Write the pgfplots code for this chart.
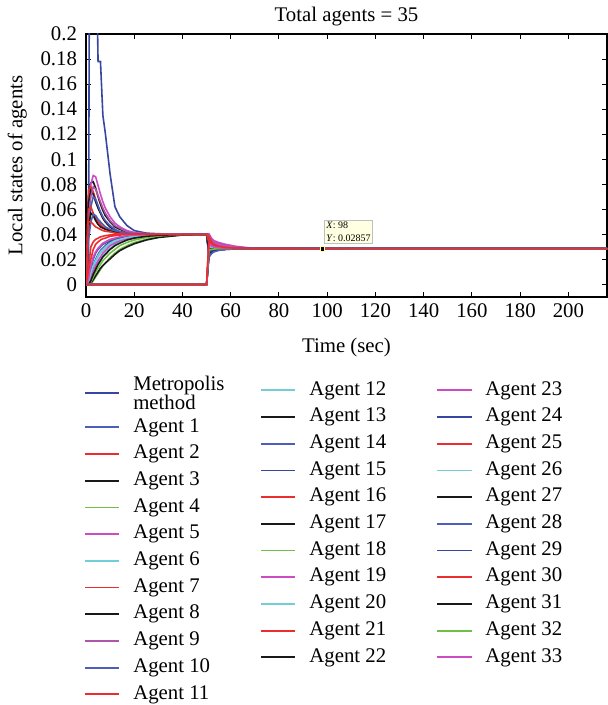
\documentclass[border=0pt]{standalone}
\usepackage{fontspec}
\setmainfont{Liberation Serif}
\usepackage{pgfplots}
\usepackage{pgfplotstable}
\pgfplotsset{compat=1.18}
\definecolor{cMet}{RGB}{55,70,160}
\definecolor{cBlue}{RGB}{75,95,185}
\definecolor{cRed}{RGB}{235,45,45}
\definecolor{cBlack}{RGB}{25,25,25}
\definecolor{cGreen}{RGB}{115,190,70}
\definecolor{cMag}{RGB}{205,75,195}
\definecolor{cCyan}{RGB}{115,205,215}
\definecolor{cPur}{RGB}{175,85,170}
\definecolor{tipbg}{RGB}{255,255,225}

\pgfplotstableread[header=true]{
name 0 1 2 3 4 5 6 7 8 10 12 14 17 20 25 30 40 50 51 52 53 55 58 62 68 216
m 0 0 0.6 0.45 0.3 0.178 0.178 0.135 0.121 0.088 0.062 0.054 0.047 0.043 0.041 0.0405 0.04 0.04 0.031 0.030 0.0295 0.029 0.0288 0.0287 0.0286 0.02857
a1 0 0.003 0.012 0.02 0.025 0.028 0.03 0.032 0.033 0.035 0.0365 0.0375 0.0385 0.039 0.0395 0.0398 0.04 0.04 0.024 0.026 0.027 0.0278 0.0282 0.0284 0.02855 0.02857
a2 0 0.012 0.03 0.034 0.036 0.037 0.038 0.0385 0.039 0.0395 0.0398 0.04 0.04 0.04 0.04 0.04 0.04 0.04 0.033 0.031 0.030 0.0295 0.029 0.0288 0.02862 0.02857
a3 0 0.07 0.081 0.082 0.077 0.07 0.064 0.059 0.055 0.05 0.046 0.044 0.042 0.041 0.0403 0.04 0.04 0.04 0.027 0.0278 0.0282 0.0284 0.0285 0.02855 0.02857 0.02857
a4 0 0 0 0.003 0.006 0.009 0.012 0.015 0.017 0.0215 0.025 0.028 0.031 0.0335 0.036 0.038 0.0395 0.04 0.029 0.0288 0.0287 0.02865 0.0286 0.02858 0.02857 0.02857
a5 0 0.06 0.08 0.087 0.086 0.079 0.072 0.066 0.061 0.054 0.049 0.046 0.043 0.0415 0.0405 0.04 0.04 0.04 0.0405 0.037 0.035 0.0335 0.032 0.0305 0.0292 0.02857
a6 0 0 0.004 0.009 0.013 0.017 0.02 0.023 0.025 0.029 0.032 0.034 0.036 0.0375 0.039 0.0395 0.04 0.04 0.030 0.0295 0.029 0.0288 0.0287 0.0286 0.02858 0.02857
a7 0 0.075 0.078 0.074 0.068 0.062 0.057 0.053 0.05 0.046 0.044 0.042 0.041 0.0405 0.04 0.04 0.04 0.04 0.034 0.032 0.031 0.030 0.0295 0.029 0.0287 0.02857
a8 0 0.065 0.075 0.072 0.066 0.061 0.057 0.053 0.05 0.046 0.043 0.042 0.041 0.0404 0.04 0.04 0.04 0.04 0.026 0.027 0.0275 0.028 0.0283 0.0285 0.02856 0.02857
a9 0 0.05 0.07 0.078 0.076 0.071 0.066 0.061 0.057 0.051 0.047 0.045 0.042 0.041 0.0404 0.04 0.04 0.04 0.039 0.036 0.034 0.0325 0.031 0.0298 0.0289 0.02857
a10 0 0.04 0.062 0.07 0.068 0.063 0.058 0.054 0.051 0.047 0.044 0.042 0.041 0.0405 0.04 0.04 0.04 0.04 0.022 0.025 0.0265 0.0275 0.028 0.0284 0.02855 0.02857
a11 0 0.06 0.062 0.057 0.053 0.05 0.048 0.046 0.045 0.043 0.042 0.041 0.0405 0.0402 0.04 0.04 0.04 0.04 0.032 0.0305 0.0298 0.0292 0.0289 0.0287 0.02858 0.02857
a12 0 0 0.006 0.012 0.018 0.022 0.025 0.027 0.029 0.032 0.034 0.0355 0.037 0.038 0.039 0.0397 0.04 0.04 0.0315 0.0305 0.0298 0.0292 0.0289 0.0287 0.02858 0.02857
a13 0 0.045 0.057 0.055 0.051 0.048 0.046 0.045 0.044 0.043 0.042 0.041 0.0405 0.0402 0.04 0.04 0.04 0.04 0.028 0.0282 0.0284 0.0285 0.02855 0.02857 0.02857 0.02857
a14 0 0.035 0.05 0.056 0.055 0.052 0.05 0.048 0.046 0.044 0.043 0.042 0.041 0.0403 0.04 0.04 0.04 0.04 0.025 0.0265 0.0272 0.0278 0.0282 0.0285 0.02856 0.02857
a15 0 0 0.008 0.015 0.02 0.024 0.027 0.029 0.031 0.034 0.0355 0.037 0.038 0.039 0.0395 0.0398 0.04 0.04 0.023 0.0255 0.027 0.0278 0.0282 0.0285 0.02856 0.02857
a16 0 0.05 0.05 0.048 0.046 0.045 0.044 0.043 0.0425 0.042 0.041 0.0405 0.0402 0.04 0.04 0.04 0.04 0.04 0.035 0.0325 0.031 0.0298 0.0292 0.0288 0.0286 0.02857
a17 0 0 0.001 0.004 0.007 0.01 0.013 0.015 0.017 0.0205 0.024 0.027 0.03 0.0325 0.0355 0.0375 0.0395 0.04 0.0285 0.0285 0.0285 0.02855 0.02857 0.02857 0.02857 0.02857
a18 0 0 0.002 0.006 0.01 0.013 0.016 0.019 0.021 0.025 0.028 0.031 0.0335 0.0355 0.0375 0.0388 0.0398 0.04 0.0295 0.029 0.0288 0.0287 0.0286 0.02858 0.02857 0.02857
a19 0 0 0.005 0.01 0.015 0.019 0.022 0.025 0.027 0.031 0.033 0.035 0.0365 0.0378 0.039 0.0396 0.04 0.04 0.037 0.035 0.033 0.0318 0.0305 0.0295 0.0288 0.02857
a20 0 0.002 0.009 0.015 0.019 0.023 0.026 0.028 0.03 0.033 0.035 0.036 0.0375 0.0385 0.0393 0.0398 0.04 0.04 0.0305 0.030 0.0295 0.029 0.0288 0.0287 0.02858 0.02857
a21 0 0.005 0.02 0.028 0.032 0.034 0.0355 0.0365 0.037 0.0385 0.039 0.0395 0.0398 0.04 0.04 0.04 0.04 0.04 0.0335 0.0315 0.0305 0.0297 0.0291 0.0288 0.0286 0.02857
a22 0 0 0.003 0.008 0.012 0.016 0.019 0.022 0.024 0.028 0.031 0.033 0.0355 0.037 0.0385 0.0393 0.0399 0.04 0.027 0.0275 0.028 0.0283 0.0285 0.02856 0.02857 0.02857
a23 0 0.004 0.015 0.022 0.026 0.029 0.031 0.033 0.034 0.036 0.037 0.038 0.039 0.0395 0.0398 0.04 0.04 0.04 0.036 0.034 0.0325 0.031 0.030 0.0292 0.0287 0.02857
a24 0 0 0 0 0 0 0 0 0 0 0 0 0 0 0 0 0 0 0.024 0.026 0.027 0.0278 0.0282 0.0285 0.02856 0.02857
a25 0 0 0 0 0 0 0 0 0 0 0 0 0 0 0 0 0 0 0.035 0.032 0.0305 0.0295 0.029 0.0287 0.02858 0.02857
a26 0 0 0 0 0 0 0 0 0 0 0 0 0 0 0 0 0 0 0.027 0.0278 0.0282 0.0284 0.0285 0.02856 0.02857 0.02857
a27 0 0 0 0 0 0 0 0 0 0 0 0 0 0 0 0 0 0 0.025 0.0265 0.0272 0.0278 0.0282 0.0285 0.02856 0.02857
a28 0 0 0 0 0 0 0 0 0 0 0 0 0 0 0 0 0 0 0.022 0.0245 0.026 0.0272 0.028 0.0284 0.02855 0.02857
a29 0 0 0 0 0 0 0 0 0 0 0 0 0 0 0 0 0 0 0.026 0.027 0.0277 0.0281 0.0284 0.0285 0.02856 0.02857
a30 0 0 0 0 0 0 0 0 0 0 0 0 0 0 0 0 0 0 0.038 0.034 0.032 0.0305 0.0295 0.029 0.0287 0.02857
a31 0 0 0 0 0 0 0 0 0 0 0 0 0 0 0 0 0 0 0.028 0.0282 0.0284 0.0285 0.02855 0.02857 0.02857 0.02857
a32 0 0 0 0 0 0 0 0 0 0 0 0 0 0 0 0 0 0 0.0275 0.028 0.0283 0.0285 0.02855 0.02857 0.02857 0.02857
a33 0 0 0 0 0 0 0 0 0 0 0 0 0 0 0 0 0 0 0.033 0.031 0.030 0.0293 0.0289 0.0287 0.02858 0.02857
}\rawdata
\pgfplotstabletranspose[colnames from=name]\data\rawdata

\pgfplotsset{
  sMet/.style={color=cMet, line width=0.8pt},
  sBlue/.style={color=cBlue, line width=0.8pt},
  sRed/.style={color=cRed, line width=0.8pt},
  sBlack/.style={color=cBlack, line width=0.8pt},
  sGreen/.style={color=cGreen, line width=0.8pt},
  sMag/.style={color=cMag, line width=0.8pt},
  sCyan/.style={color=cCyan, line width=0.8pt},
  sPur/.style={color=cPur, line width=0.8pt},
  legbox/.style={
    scale only axis, width=260.5pt, height=131.5pt, hide axis,
    xmin=0, xmax=1, ymin=0, ymax=1,
    legend cell align=left,
    legend image post style={line width=0.9pt},
    legend style={draw=none, fill=none, inner sep=0pt, anchor=north west,
      font=\fontsize{10.4}{12}\selectfont, row sep=4.05pt,
      nodes={inner sep=0pt, text height=7pt, text depth=2.3pt},
      cells={anchor=west},
      /tikz/every odd column/.append style={column sep=6.5pt}},
  },
}

\begin{document}
\begin{tikzpicture}
\begin{axis}[
  scale only axis, width=260.5pt, height=131.5pt,
  xmin=0, xmax=216, ymin=-0.01, ymax=0.2,
  xtick={0,20,40,60,80,100,120,140,160,180,200},
  ytick={0,0.02,0.04,0.06,0.08,0.1,0.12,0.14,0.16,0.18,0.2},
  scaled y ticks=false,
  yticklabel style={/pgf/number format/fixed, /pgf/number format/precision=2, xshift=-1pt},
  /pgf/number format/assume math mode=true,
  tick align=inside, major tick length=2.5pt,
  tick style={black, line width=0.5pt},
  axis line style={black, line width=0.6pt},
  font=\fontsize{10.4}{12}\selectfont,
  title={Total agents = 35},
  title style={yshift=-5.5pt},
  xlabel={Time (sec)},
  xlabel style={yshift=-3pt},
  ylabel={Local states of agents},
  clip=true,
]
\addplot[sMet] table[x=colnames, y=m] {\data};
\addplot[sBlue] table[x=colnames, y=a1] {\data};
\addplot[sBlack] table[x=colnames, y=a3] {\data};
\addplot[sGreen] table[x=colnames, y=a4] {\data};
\addplot[sMag] table[x=colnames, y=a5] {\data};
\addplot[sCyan] table[x=colnames, y=a6] {\data};
\addplot[sRed] table[x=colnames, y=a7] {\data};
\addplot[sBlack] table[x=colnames, y=a8] {\data};
\addplot[sPur] table[x=colnames, y=a9] {\data};
\addplot[sBlue] table[x=colnames, y=a10] {\data};
\addplot[sRed] table[x=colnames, y=a11] {\data};
\addplot[sCyan] table[x=colnames, y=a12] {\data};
\addplot[sBlack] table[x=colnames, y=a13] {\data};
\addplot[sBlue] table[x=colnames, y=a14] {\data};
\addplot[sMet] table[x=colnames, y=a15] {\data};
\addplot[sRed] table[x=colnames, y=a16] {\data};
\addplot[sBlack] table[x=colnames, y=a17] {\data};
\addplot[sGreen] table[x=colnames, y=a18] {\data};
\addplot[sMag] table[x=colnames, y=a19] {\data};
\addplot[sCyan] table[x=colnames, y=a20] {\data};
\addplot[sRed] table[x=colnames, y=a21] {\data};
\addplot[sBlack] table[x=colnames, y=a22] {\data};
\addplot[sMag] table[x=colnames, y=a23] {\data};
\addplot[sRed] table[x=colnames, y=a2] {\data};
\addplot[sMet] table[x=colnames, y=a24] {\data};
\addplot[sRed] table[x=colnames, y=a25] {\data};
\addplot[sCyan] table[x=colnames, y=a26] {\data};
\addplot[sBlack] table[x=colnames, y=a27] {\data};
\addplot[sBlue] table[x=colnames, y=a28] {\data};
\addplot[sMet] table[x=colnames, y=a29] {\data};
\addplot[sBlack] table[x=colnames, y=a31] {\data};
\addplot[sGreen] table[x=colnames, y=a32] {\data};
\addplot[sMag] table[x=colnames, y=a33] {\data};
\addplot[sRed] table[x=colnames, y=a30] {\data};
\addplot[only marks, mark=square*, mark size=1.1pt,
  mark options={fill=black, draw=tipbg!70!yellow, line width=0.3pt},
  nodes near coords={\shortstack[l]{\textit{X}: 98\\\textit{Y}: 0.02857}},
  every node near coord/.style={anchor=south west, font=\fontsize{5}{5.6}\selectfont,
    fill=tipbg, draw=gray!50, line width=0.4pt, inner sep=1pt, xshift=0.8pt, yshift=2.2pt, text=black}]
  coordinates {(98,0.02857)};
\end{axis}

\begin{axis}[legbox, legend style={at={(axis description cs:-0.004,-0.30)}}]
\addlegendimage{sMet}\addlegendentry[text height=, text depth=, align=left, font=\fontsize{10.4}{9.5}\selectfont]{Metropolis\\method}
\addlegendimage{sBlue}\addlegendentry{Agent 1}
\addlegendimage{sRed}\addlegendentry{Agent 2}
\addlegendimage{sBlack}\addlegendentry{Agent 3}
\addlegendimage{sGreen}\addlegendentry{Agent 4}
\addlegendimage{sMag}\addlegendentry{Agent 5}
\addlegendimage{sCyan}\addlegendentry{Agent 6}
\addlegendimage{sRed}\addlegendentry{Agent 7}
\addlegendimage{sBlack}\addlegendentry{Agent 8}
\addlegendimage{sPur}\addlegendentry{Agent 9}
\addlegendimage{sBlue}\addlegendentry{Agent 10}
\addlegendimage{sRed}\addlegendentry{Agent 11}
\end{axis}

\begin{axis}[legbox, legend style={at={(axis description cs:0.334,-0.318)}}]
\addlegendimage{sCyan}\addlegendentry{Agent 12}
\addlegendimage{sBlack}\addlegendentry{Agent 13}
\addlegendimage{sBlue}\addlegendentry{Agent 14}
\addlegendimage{sMet}\addlegendentry{Agent 15}
\addlegendimage{sRed}\addlegendentry{Agent 16}
\addlegendimage{sBlack}\addlegendentry{Agent 17}
\addlegendimage{sGreen}\addlegendentry{Agent 18}
\addlegendimage{sMag}\addlegendentry{Agent 19}
\addlegendimage{sCyan}\addlegendentry{Agent 20}
\addlegendimage{sRed}\addlegendentry{Agent 21}
\addlegendimage{sBlack}\addlegendentry{Agent 22}
\end{axis}

\begin{axis}[legbox, legend style={at={(axis description cs:0.672,-0.318)}}]
\addlegendimage{sMag}\addlegendentry{Agent 23}
\addlegendimage{sMet}\addlegendentry{Agent 24}
\addlegendimage{sRed}\addlegendentry{Agent 25}
\addlegendimage{sCyan}\addlegendentry{Agent 26}
\addlegendimage{sBlack}\addlegendentry{Agent 27}
\addlegendimage{sBlue}\addlegendentry{Agent 28}
\addlegendimage{sMet}\addlegendentry{Agent 29}
\addlegendimage{sRed}\addlegendentry{Agent 30}
\addlegendimage{sBlack}\addlegendentry{Agent 31}
\addlegendimage{sGreen}\addlegendentry{Agent 32}
\addlegendimage{sMag}\addlegendentry{Agent 33}
\end{axis}

\pgfresetboundingbox
\path[use as bounding box] (-43pt,-204pt) rectangle (261pt,148.5pt);
\end{tikzpicture}
\end{document}
